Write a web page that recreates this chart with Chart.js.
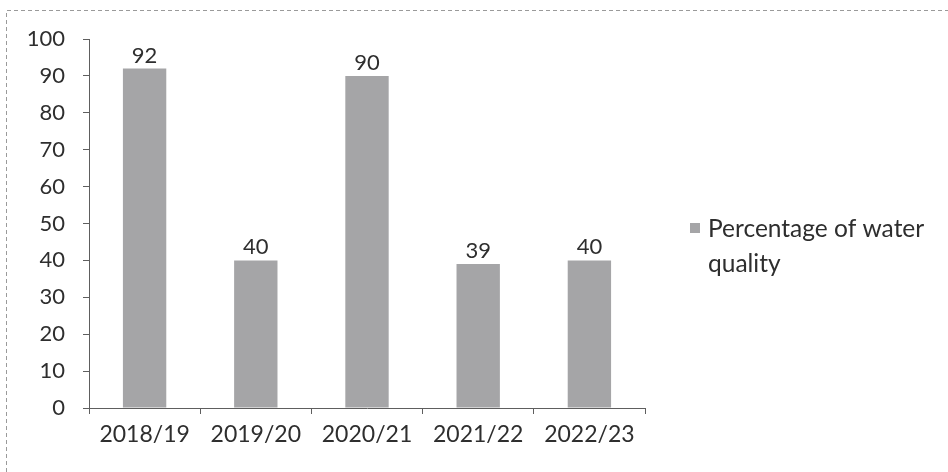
<!DOCTYPE html>
<html>
<head>
<meta charset="utf-8">
<script src="https://cdn.jsdelivr.net/npm/chart.js@4.4.1/dist/chart.umd.min.js"></script>
<style>
  html, body { margin: 0; padding: 0; background: #fff; }
  #wrap { width: 948px; height: 472px; position: relative; }
</style>
</head>
<body>
<div id="wrap"><canvas id="c" width="948" height="472"></canvas></div>
<script>
const years = ['2018/19', '2019/20', '2020/21', '2021/22', '2022/23'];
const waterQuality = [92, 40, 90, 39, 40];
const seriesName = 'Percentage of water quality';
const legendLines = ['Percentage of water', 'quality'];

const FONT = 'Lato, "Open Sans", sans-serif';
const TEXT = '#2e2e2e';
const BAR = '#a5a5a7';

// Value labels above each bar
const valueLabels = {
  id: 'valueLabels',
  afterDatasetsDraw(chart) {
    const ctx = chart.ctx;
    const meta = chart.getDatasetMeta(0);
    ctx.save();
    ctx.font = '22px ' + FONT;
    ctx.fillStyle = TEXT;
    ctx.textAlign = 'center';
    ctx.textBaseline = 'alphabetic';
    meta.data.forEach((bar, i) => {
      ctx.fillText(String(chart.data.datasets[0].data[i]), bar.x, bar.y - 6);
    });
    ctx.restore();
  }
};

// Legend on the right, wrapped over two lines, plus the dashed frame
const sideLegend = {
  id: 'sideLegend',
  afterDraw(chart) {
    const ctx = chart.ctx;
    ctx.save();
    ctx.fillStyle = BAR;
    ctx.fillRect(690, 223, 10, 10);
    ctx.font = '24.5px ' + FONT;
    ctx.fillStyle = TEXT;
    ctx.textAlign = 'left';
    ctx.textBaseline = 'middle';
    legendLines.forEach((line, i) => ctx.fillText(line, 708, 229 + i * 35));

    ctx.strokeStyle = '#9a9a9a';
    ctx.lineWidth = 1;
    ctx.setLineDash([4, 3]);
    ctx.beginPath();
    ctx.moveTo(6.5, 472);
    ctx.lineTo(6.5, 10.5);
    ctx.lineTo(948, 10.5);
    ctx.stroke();
    ctx.restore();
  }
};

new Chart(document.getElementById('c'), {
  type: 'bar',
  data: {
    labels: years,
    datasets: [{
      label: seriesName,
      data: waterQuality,
      backgroundColor: BAR,
      borderWidth: 0,
      categoryPercentage: 1,
      barPercentage: 0.39
    }]
  },
  options: {
    responsive: false,
    animation: false,
    layout: { padding: { left: 0, top: 39, right: 303, bottom: 0 } },
    plugins: {
      legend: { display: false },
      tooltip: { enabled: false }
    },
    scales: {
      x: {
        offset: true,
        grid: {
          offset: true,
          drawOnChartArea: false,
          drawTicks: true,
          tickLength: 6,
          color: '#5e5e5e'
        },
        border: { display: true, color: '#5e5e5e', width: 1 },
        ticks: { color: TEXT, font: { family: FONT, size: 23 }, padding: 7 },
        afterFit(s) { s.height = 64; }
      },
      y: {
        min: 0,
        max: 100,
        ticks: { stepSize: 10, color: TEXT, font: { family: FONT, size: 22 }, padding: 18 },
        grid: {
          drawOnChartArea: false,
          drawTicks: true,
          tickLength: 6,
          color: '#5e5e5e'
        },
        border: { display: true, color: '#5e5e5e', width: 1 },
        afterFit(s) { s.width = 89; }
      }
    }
  },
  plugins: [valueLabels, sideLegend]
});
</script>
</body>
</html>
